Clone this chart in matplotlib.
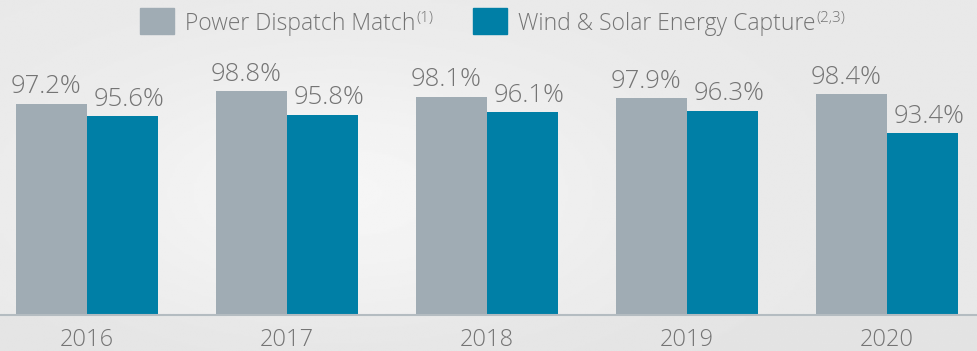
import numpy as np
import matplotlib.pyplot as plt
from matplotlib.patches import Rectangle

years = ['2016', '2017', '2018', '2019', '2020']
dispatch = [97.2, 98.8, 98.1, 97.9, 98.4]
capture = [95.6, 95.8, 96.1, 96.3, 93.4]

GREY = '#a0acb4'
TEAL = '#007fa6'
TEXT = '#747474'
FONT = 'Open Sans'
BASE = 70.0

fig = plt.figure(figsize=(9.77, 3.51), dpi=100)

# soft grey backdrop
bg = fig.add_axes([0, 0, 1, 1], zorder=0)
yy, xx = np.mgrid[0:1:200j, 0:1:400j]
shade = 0.912 + 0.05 * np.exp(-((xx - 0.35) ** 2) / 0.08 - ((yy - 0.55) ** 2) / 0.15)
shade -= 0.02 * (yy > 0.9)
bg.imshow(shade, cmap='gray', vmin=0, vmax=1, aspect='auto', extent=[0, 1, 0, 1])
bg.axis('off')

ax = fig.add_axes([0, 0, 1, 1], zorder=1)
ax.patch.set_alpha(0)
x = np.arange(len(years))
w = 0.355
ax.bar(x - w / 2, np.array(dispatch) - BASE, w, bottom=BASE, color=GREY)
ax.bar(x + w / 2, np.array(capture) - BASE, w, bottom=BASE, color=TEAL)
ax.axhline(BASE, color='#b4bcc1', lw=1.5)

ax.set_xlim(-0.435, 4.45)
ax.set_ylim(65.41, 110.53)
ax.axis('off')

lab = dict(color=TEXT, family=FONT, weight='light',
           textcoords='offset points', ha='center', va='baseline')
for i in range(len(years)):
    ax.annotate(f'{dispatch[i]:.1f}%', (x[i] - w / 2, dispatch[i]), xytext=(-4, 7.5),
                fontsize=18.5, **lab)
    ax.annotate(f'{capture[i]:.1f}%', (x[i] + w / 2, capture[i]), xytext=(5, 7.5),
                fontsize=18.5, **lab)
    ax.annotate(years[i], (x[i], BASE), xytext=(0, -22), fontsize=17, **lab)

# legend drawn by hand so the footnote marks can sit raised
W, H = 977, 351
r = fig.canvas.get_renderer()
entries = [(140, GREY, 'Power Dispatch Match', '(1)'),
           (473, TEAL, 'Wind & Solar Energy Capture', '(2,3)')]
for px, col, label, note in entries:
    fig.patches.append(Rectangle((px / W, 1 - 34 / H), 34 / W, 26 / H,
                                 transform=fig.transFigure, color=col, zorder=2))
    t = fig.text((px + 45) / W, 1 - 30 / H, label, fontsize=16.5, color=TEXT,
                 family=FONT, weight='light', va='baseline', zorder=3)
    bb = t.get_window_extent(r)
    fig.text(bb.x1 / W + 1 / W, 1 - 22 / H, note, fontsize=11, color=TEXT,
             family=FONT, weight='light', va='baseline', zorder=3)

fig.savefig('out.png', dpi=100)
